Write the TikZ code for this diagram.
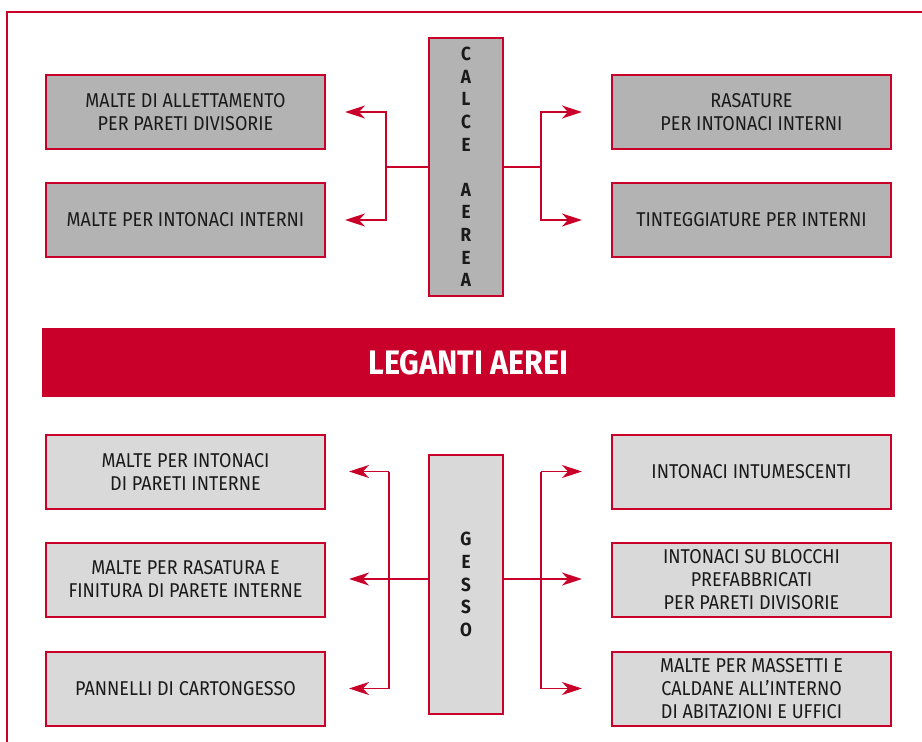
\documentclass[tikz,border=0pt]{standalone}
\usepackage{fontspec}
\setmainfont{Fira Sans}[FakeStretch=0.9]
\usetikzlibrary{arrows.meta,calc}
\definecolor{lgred}{HTML}{C8002A}
\definecolor{midgray}{HTML}{B3B3B3}
\definecolor{lightgray}{HTML}{D9D9D9}
\definecolor{ink}{HTML}{1A1A1A}
\begin{document}
\begin{tikzpicture}[x=1pt,y=-1pt,
  leaf/.style={draw=lgred,line width=2pt,minimum width=279pt,minimum height=74pt,
    align=center,text=ink,font=\fontsize{20}{23}\selectfont,inner sep=0pt},
  upleaf/.style={leaf,fill=midgray},
  lowleaf/.style={leaf,fill=lightgray},
  pillar/.style={draw=lgred,line width=2pt,minimum width=74pt,align=center,
    text=ink,font=\bfseries\fontsize{19}{22.6}\selectfont,inner sep=0pt},
  link/.style={draw=lgred,line width=1.8pt},
  tip/.style={link,-{Stealth[length=20pt,width=13pt,inset=6pt]}}
]
\useasboundingbox (0,0) rectangle (922,742);
% outer frame
\draw[lgred,line width=1.6pt] (7,742) -- (7,12) -- (922,12);

% upper group: calce aerea
\node[pillar,fill=midgray,minimum height=258pt] (calce) at (466,167)
  {C\\A\\L\\C\\E\\[22.6pt]A\\E\\R\\E\\A};
\node[upleaf] (ua) at (185.5,112) {MALTE DI ALLETTAMENTO\\PER PARETI DIVISORIE};
\node[upleaf] (ub) at (185.5,220) {MALTE PER INTONACI INTERNI};
\node[upleaf] (uc) at (751.5,112) {RASATURE\\PER INTONACI INTERNI};
\node[upleaf] (ud) at (751.5,220) {TINTEGGIATURE PER INTERNI};

\coordinate (jul) at (386,167);
\coordinate (jur) at (541,167);
\draw[link] (calce.west) -- (jul);
\draw[link] (calce.east) -- (jur);
\draw[tip] (jul) |- ([xshift=19pt]ua.east);
\draw[tip] (jul) |- ([xshift=19pt]ub.east);
\draw[tip] (jur) |- ([xshift=-29pt]uc.west);
\draw[tip] (jur) |- ([xshift=-29pt]ud.west);

% title band
\node[fill=lgred,minimum width=853pt,minimum height=69pt,inner sep=0pt,
  text=white,font=\bfseries\fontsize{34}{38}\selectfont] (band) at (468.5,362.5)
  {LEGANTI AEREI};

% lower group: gesso
\node[pillar,fill=lightgray,minimum height=259pt] (gesso) at (466,584.5)
  {G\\E\\S\\S\\O};
\node[lowleaf] (la) at (185.5,471.5) {MALTE PER INTONACI\\DI PARETI INTERNE};
\node[lowleaf] (lb) at (185.5,579.5) {MALTE PER RASATURA E\\FINITURA DI PARETE INTERNE};
\node[lowleaf] (lc) at (185.5,688.5) {PANNELLI DI CARTONGESSO};
\node[lowleaf] (ra) at (751.5,471.5) {INTONACI INTUMESCENTI};
\node[lowleaf] (rb) at (751.5,579.5) {INTONACI SU BLOCCHI\\PREFABBRICATI\\PER PARETI DIVISORIE};
\node[lowleaf] (rc) at (751.5,688.5) {MALTE PER MASSETTI E\\CALDANE ALL’INTERNO\\DI ABITAZIONI E UFFICI};

\coordinate (jll) at (389,579);
\coordinate (jlr) at (541,579);
\draw[link] (jll |- la.east) -- (jll |- lc.east);
\draw[link] (jlr |- ra.west) -- (jlr |- rc.west);
\draw[tip] (jll |- la.east) -- ([xshift=23pt]la.east);
\draw[tip] (gesso.west |- jll) -- ([xshift=23pt]lb.east |- jll);
\draw[tip] (jll |- lc.east) -- ([xshift=23pt]lc.east);
\draw[tip] (jlr |- ra.west) -- ([xshift=-29pt]ra.west);
\draw[tip] (gesso.east |- jlr) -- ([xshift=-29pt]rb.west |- jlr);
\draw[tip] (jlr |- rc.west) -- ([xshift=-29pt]rc.west);
\end{tikzpicture}
\end{document}
